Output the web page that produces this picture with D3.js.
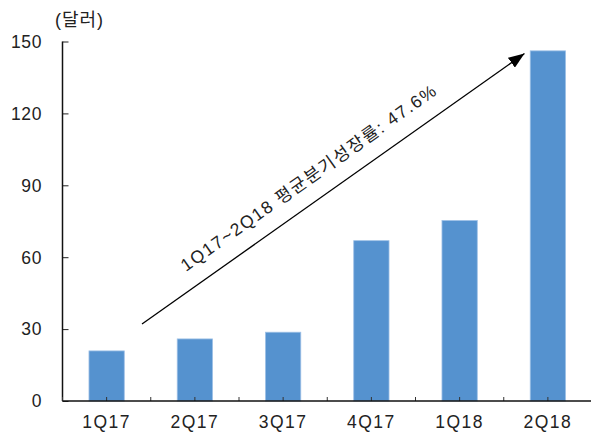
<!DOCTYPE html>
<html>
<head>
<meta charset="utf-8">
<script src="https://cdn.jsdelivr.net/npm/d3@7"></script>
<style>
  body { margin: 0; background: #fff; }
  text { font-family: "Liberation Sans", "Noto Sans CJK KR", sans-serif; fill: #222; }
</style>
</head>
<body>
<script>
// quarters and revenue (달러)
var quarters = ["1Q17", "2Q17", "3Q17", "4Q17", "1Q18", "2Q18"];
var values = [20.9, 25.9, 28.7, 66.9, 75.3, 146.1];
var yTicks = [0, 30, 60, 90, 120, 150];
var unitLabel = "(달러)";
var growthNote = "1Q17~2Q18 평균분기성장률: 47.6%";

(function chart(){
  var width = 591, height = 432;
  var svg = d3.select("body").append("svg")
    .attr("width", width)
    .attr("height", height);

  var x = d3.scaleBand().domain(quarters)
    .range([62.5, 592])
    .paddingInner(0.6)
    .paddingOuter(0.3);
  var y = d3.scaleLinear().domain([0, 150]).range([401, 41.5]);

  // bars
  svg.selectAll(".bar").data(values).enter().append("rect")
    .attr("class", "bar")
    .attr("x", function(d, i){ return x(quarters[i]); })
    .attr("y", function(d){ return y(d); })
    .attr("width", x.bandwidth())
    .attr("height", function(d){ return y(0) - y(d); })
    .attr("fill", "#5592cf")
    .attr("stroke", "#9dc0e6")
    .attr("stroke-width", 0.8);

  // y axis, ticks inside
  var yAxis = d3.axisRight(y).tickValues(yTicks).tickSize(6).tickFormat("");
  var gy = svg.append("g").attr("transform", "translate(62.5,0)").call(yAxis);
  gy.select(".domain").remove();
  gy.selectAll("line").attr("stroke", "#222");
  svg.append("line")
    .attr("x1", 62.5).attr("x2", 62.5)
    .attr("y1", y(150)).attr("y2", y(0))
    .attr("stroke", "#111").attr("stroke-width", 1.5);

  svg.selectAll(".ylab").data(yTicks).enter().append("text")
    .attr("class", "ylab")
    .attr("x", 42)
    .attr("y", function(d){ return y(d); })
    .attr("dy", "0.36em")
    .attr("text-anchor", "end")
    .style("font-size", "17.5px")
    .style("letter-spacing", "0.6px")
    .text(function(d){ return d; });

  // x axis: ticks at band edges and centers, pointing up
  var step = x.step();
  var xt = [];
  for (var i = 0; i <= quarters.length; i++) {
    xt.push(x.range()[0] + i * step);
    if (i < quarters.length) xt.push(x(quarters[i]) + x.bandwidth() / 2);
  }
  svg.selectAll(".xtick").data(xt).enter().append("line")
    .attr("class", "xtick")
    .attr("x1", function(d){ return d; }).attr("x2", function(d){ return d; })
    .attr("y1", y(0)).attr("y2", y(0) - 4)
    .attr("stroke", "#333");
  svg.append("line")
    .attr("x1", 62.5).attr("x2", 592)
    .attr("y1", y(0)).attr("y2", y(0))
    .attr("stroke", "#111").attr("stroke-width", 1.5);

  svg.selectAll(".xlab").data(quarters).enter().append("text")
    .attr("class", "xlab")
    .attr("x", function(d){ return x(d) + x.bandwidth() / 2; })
    .attr("y", 428)
    .attr("text-anchor", "middle")
    .style("font-size", "17.5px")
    .style("letter-spacing", "1.5px")
    .text(function(d){ return d; });

  svg.append("text")
    .attr("x", 55).attr("y", 26)
    .style("font-size", "18px")
    .style("letter-spacing", "1px")
    .text(unitLabel);

  // growth arrow
  svg.append("defs").append("marker")
    .attr("id", "head")
    .attr("viewBox", "0 0 16 12")
    .attr("refX", 16).attr("refY", 6)
    .attr("markerWidth", 16).attr("markerHeight", 12)
    .attr("markerUnits", "userSpaceOnUse")
    .attr("orient", "auto")
    .append("path").attr("d", "M0,0L16,6L0,12Z").attr("fill", "#000");

  svg.append("line")
    .attr("x1", 142).attr("y1", 324)
    .attr("x2", 524.5).attr("y2", 53.5)
    .attr("stroke", "#000").attr("stroke-width", 1.3)
    .attr("marker-end", "url(#head)");

  svg.append("text")
    .attr("transform", "translate(186,272) rotate(-35.3)")
    .attr("textLength", 308)
    .attr("lengthAdjust", "spacing")
    .style("font-size", "17.5px")
    .text(growthNote);
})();
</script>
</body>
</html>
